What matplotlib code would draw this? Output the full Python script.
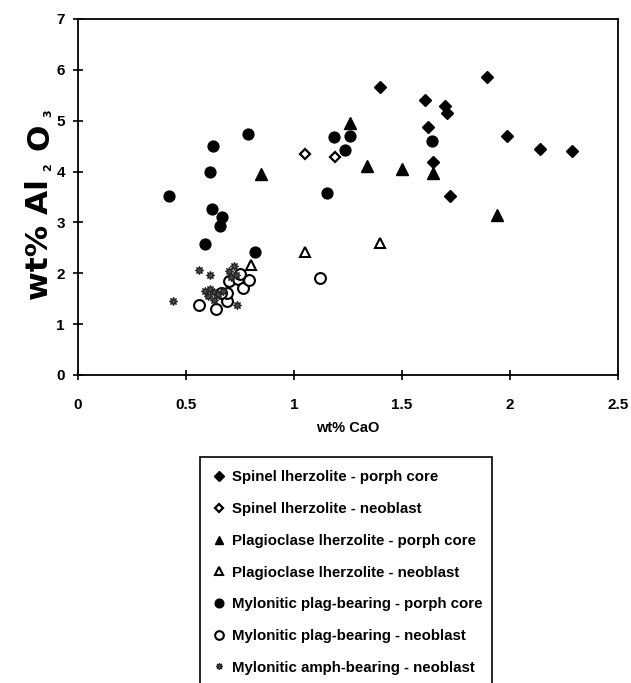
import matplotlib
matplotlib.use("Agg")
import matplotlib.pyplot as plt
from matplotlib.lines import Line2D
from matplotlib.patches import Rectangle

plt.rcParams['font.family'] = ['Liberation Sans', 'DejaVu Sans']
plt.rcParams['font.weight'] = 'bold'

# ---- data ----
spinel_core_x = [1.40, 1.895, 1.605, 1.70, 1.71, 1.62, 1.985, 1.645, 1.72, 2.14, 2.285]
spinel_core_y = [5.66, 5.85, 5.41, 5.29, 5.16, 4.88, 4.69, 4.19, 3.51, 4.44, 4.41]

spinel_neo_x = [1.05, 1.19]
spinel_neo_y = [4.35, 4.29]

plag_core_x = [1.26, 1.34, 1.50, 1.645, 1.94, 0.845]
plag_core_y = [4.95, 4.11, 4.06, 3.98, 3.15, 3.95]

plag_neo_x = [0.80, 1.05, 1.40]
plag_neo_y = [2.16, 2.42, 2.60]

myl_plag_core_x = [0.785, 0.625, 0.612, 0.42, 0.62, 0.665, 0.657, 0.587, 0.818,
                   1.185, 1.26, 1.238, 1.64, 1.153]
myl_plag_core_y = [4.74, 4.51, 4.00, 3.51, 3.27, 3.11, 2.92, 2.58, 2.41,
                   4.67, 4.69, 4.42, 4.61, 3.58]

myl_plag_neo_x = [0.56, 0.64, 0.69, 0.69, 0.66, 0.70, 0.74, 0.765, 0.79, 0.75, 1.12]
myl_plag_neo_y = [1.37, 1.30, 1.46, 1.62, 1.62, 1.84, 1.88, 1.72, 1.87, 1.98, 1.90]

myl_amph_neo_x = [0.44, 0.56, 0.61, 0.72, 0.70, 0.59, 0.61, 0.63, 0.60, 0.65,
                  0.67, 0.735, 0.71, 0.73, 0.63]
myl_amph_neo_y = [1.45, 2.07, 1.97, 2.14, 2.05, 1.66, 1.69, 1.63, 1.55, 1.60,
                  1.66, 1.38, 1.92, 1.97, 1.48]

labels = ["Spinel lherzolite - porph core",
          "Spinel lherzolite - neoblast",
          "Plagioclase lherzolite - porph core",
          "Plagioclase lherzolite - neoblast",
          "Mylonitic plag-bearing - porph core",
          "Mylonitic plag-bearing - neoblast",
          "Mylonitic amph-bearing - neoblast"]

x_ticks = [0, 0.5, 1, 1.5, 2, 2.5]
x_tick_labels = ["0", "0.5", "1", "1.5", "2", "2.5"]
y_ticks = [0, 1, 2, 3, 4, 5, 6, 7]
y_label_parts = [("wt% Al", False), ("2", True), ("O", False), ("3", True)]

W, H = 631, 683
fig = plt.figure(figsize=(W / 100, H / 100), dpi=100)
L, R, T, B = 78, 618, 19, 375
ax = fig.add_axes([L / W, 1 - B / H, (R - L) / W, (B - T) / H])

styles = [
    dict(marker='D', ms=5.8, mfc='black', mec='black', mew=1.0),
    dict(marker='D', ms=4.6, mfc='white', mec='black', mew=1.6),
    dict(marker='^', ms=8.0, mfc='black', mec='black', mew=1.0),
    dict(marker='^', ms=7.5, mfc='white', mec='black', mew=1.5),
    dict(marker='o', ms=7.8, mfc='black', mec='black', mew=1.0),
    dict(marker='o', ms=7.8, mfc='white', mec='black', mew=1.5),
    dict(marker=(8, 1, 0), ms=6.0, mfc='#444444', mec='#222222', mew=0.8),
]
series = [(spinel_core_x, spinel_core_y), (spinel_neo_x, spinel_neo_y),
          (plag_core_x, plag_core_y), (plag_neo_x, plag_neo_y),
          (myl_plag_core_x, myl_plag_core_y), (myl_plag_neo_x, myl_plag_neo_y),
          (myl_amph_neo_x, myl_amph_neo_y)]

for (xs, ys), st in zip(series, styles):
    ax.plot(xs, ys, linestyle='none', **st)

ax.set_xlim(0, 2.5)
ax.set_ylim(0, 7)
ax.set_xticks(x_ticks)
ax.set_xticklabels(x_tick_labels)
ax.set_yticks(y_ticks)
for sp in ax.spines.values():
    sp.set_linewidth(1.3)
    sp.set_color('black')
ax.tick_params(axis='x', direction='inout', length=7, width=1.2, pad=13, labelsize=11)
ax.tick_params(axis='y', direction='inout', length=7, width=1.2, pad=6, labelsize=11)
for lab in ax.get_xticklabels() + ax.get_yticklabels():
    lab.set_fontweight('bold')

ax.set_xlabel("wt% CaO", fontsize=10.5, fontweight='bold')
ax.xaxis.set_label_coords(0.5, -0.13)

# y label built from pieces (big text with small subscripts), rotated
renderer = fig.canvas.get_renderer()
base_x = 48.5
cur_y = 300.0
gaps = [8, 13, 7, 0]
for (txt, is_sub), gap in zip(y_label_parts, gaps):
    size = 8 if is_sub else 22.5
    bx = base_x + (3 if is_sub else 0)
    t = fig.text(bx / W, 1 - cur_y / H, txt, rotation=90, rotation_mode='anchor',
                 ha='left', va='baseline', fontsize=size, fontweight='bold',
                 family='DejaVu Sans')
    ext = t.get_window_extent(renderer)
    cur_y -= ext.height + gap

# legend
handles = [Line2D([], [], linestyle='none', **dict(st, ms=st['ms'] * 0.8)) for st in styles]
leg = fig.legend(handles, labels, loc='upper left',
                 bbox_to_anchor=(208 / W, 1 - 466 / H), frameon=False,
                 prop=dict(family='Liberation Sans', weight='bold', size=10.8),
                 labelspacing=1.18, handlelength=0.8, handletextpad=0.5,
                 borderaxespad=0, borderpad=0.3)
fig.patches.append(Rectangle((200 / W, -0.02), (492 - 200) / W, (1 - 457 / H) + 0.02,
                             transform=fig.transFigure, fill=False,
                             edgecolor='black', linewidth=1.2))

fig.savefig("out.png", dpi=100)
